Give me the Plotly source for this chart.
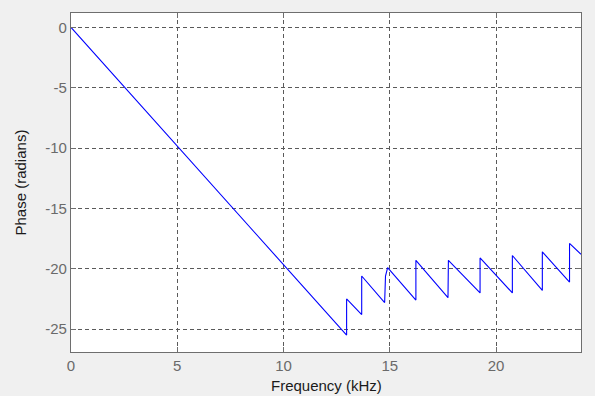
import plotly.graph_objects as go

# Unwrapped phase response, vertices of the trace (kHz, radians)
freq_khz = [0.0, 12.97, 12.97, 13.68, 13.68, 14.76, 14.80, 14.90,
            16.23, 16.23, 17.74, 17.76, 19.25, 19.25, 20.77, 20.77,
            22.18, 22.18, 23.46, 23.46, 24.0]
phase_rad = [0.0, -25.5, -22.5, -23.8, -20.6, -22.8, -20.6, -19.9,
             -22.6, -19.3, -22.4, -19.3, -22.0, -19.1, -22.0, -18.9,
             -21.8, -18.6, -21.1, -17.9, -18.8]

x_ticks = [0, 5, 10, 15, 20]
y_ticks = [0, -5, -10, -15, -20, -25]

frame = "#6e6e6e"
tick_font = dict(family="Liberation Sans, Arial, sans-serif", size=15, color="#6a6a6a")
title_font = dict(family="Liberation Sans, Arial, sans-serif", size=15, color="#1a1a1a")

fig = go.Figure()
fig.add_trace(go.Scatter(x=freq_khz, y=phase_rad, mode="lines",
                         line=dict(color="#0000ff", width=1.1),
                         hoverinfo="skip", showlegend=False))

axis_common = dict(showline=True, linecolor=frame, linewidth=1.2, mirror="ticks",
                   ticks="inside", ticklen=5, tickcolor=frame, tickwidth=1,
                   showgrid=True, gridcolor="#5a5a5a", gridwidth=1, griddash="4px,3px",
                   zeroline=False, tickfont=tick_font)

fig.update_xaxes(range=[0, 24], tickvals=x_ticks, ticktext=[str(v) for v in x_ticks],
                 **axis_common)
fig.update_yaxes(range=[-26.9, 1.2], tickvals=y_ticks, ticktext=[str(v) for v in y_ticks],
                 **axis_common)

fig.update_layout(
    width=595, height=396,
    margin=dict(l=71, r=14, t=13, b=44),
    paper_bgcolor="#f0f0f0", plot_bgcolor="#ffffff",
    annotations=[
        dict(text="Frequency (kHz)", xref="paper", yref="paper", x=0.5, y=-0.128,
             xanchor="center", yanchor="bottom", borderpad=0, showarrow=False,
             font=title_font),
        dict(text="Phase (radians)", xref="paper", yref="paper", x=-0.1, y=0.5,
             xanchor="center", yanchor="middle", textangle=-90, showarrow=False,
             font=title_font),
    ],
)

fig.write_html("out.html")
